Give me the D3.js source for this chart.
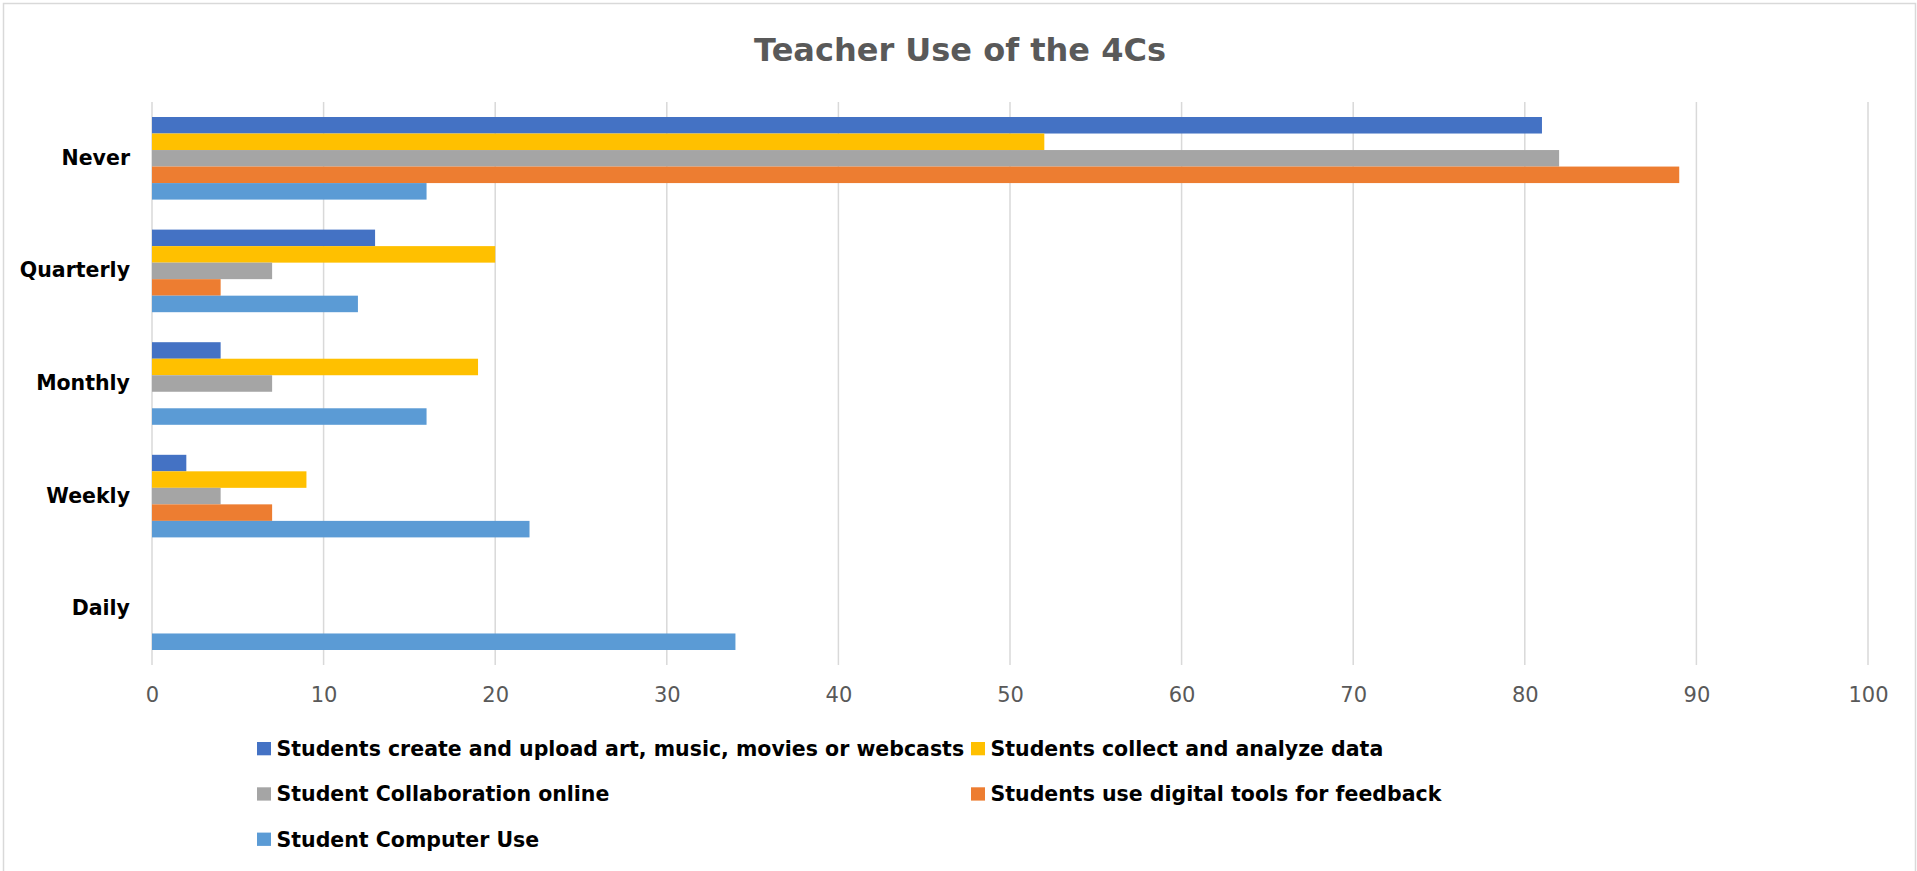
<!DOCTYPE html>
<html>
<head>
<meta charset="utf-8">
<script src="https://cdn.jsdelivr.net/npm/d3@7"></script>
<style>
  html, body { margin: 0; padding: 0; background: #fff; overflow: hidden; }
  text { font-family: "DejaVu Sans", sans-serif; }
</style>
</head>
<body>
<div id="chart"></div>
<script>
// categories, top to bottom
var categories = ["Never", "Quarterly", "Monthly", "Weekly", "Daily"];

var seriesNames = [
  "Students create and upload art, music, movies or webcasts",
  "Students collect and analyze data",
  "Student Collaboration online",
  "Students use digital tools for feedback",
  "Student Computer Use"
];
var seriesColors = ["#4472C4", "#FFC000", "#A5A5A5", "#ED7D31", "#5B9BD5"];

// values per series, same order as categories
var createUpload = [81, 13, 4, 2, 0];
var collectData = [52, 20, 19, 9, 0];
var collabOnline = [82, 7, 7, 4, 0];
var feedbackTools = [89, 4, 0, 7, 0];
var computerUse = [16, 12, 16, 22, 34];

var xTicks = [0, 10, 20, 30, 40, 50, 60, 70, 80, 90, 100];
var title = "Teacher Use of the 4Cs";

(function(){
    var width = 1917, height = 871;
    var left = 152, right = 1868, top = 102, bottom = 665;

    var svg = d3.select("#chart")
    .append("svg")
    .attr("width", width)
    .attr("height", height);

    // chart area border
    svg.append("rect")
    .attr("x", 3.5).attr("y", 3.5)
    .attr("width", 1912).attr("height", 900)
    .attr("fill", "#fff")
    .attr("stroke", "#d9d9d9")
    .attr("stroke-width", 1.5);

    var allSeries = [createUpload, collectData, collabOnline, feedbackTools, computerUse];

    var x = d3.scaleLinear().domain([0, 100]).range([left, right]);
    var y = d3.scaleBand().domain(categories).range([top, bottom])
    .paddingInner(0.2665).paddingOuter(0.13325);
    var ySub = d3.scaleBand().domain(d3.range(seriesNames.length)).range([0, y.bandwidth()]);

    // gridlines
    svg.append("g").selectAll("line")
    .data(xTicks)
    .enter().append("line")
    .attr("x1", function(d){ return x(d); })
    .attr("x2", function(d){ return x(d); })
    .attr("y1", top)
    .attr("y2", bottom)
    .attr("stroke", "#d9d9d9")
    .attr("stroke-width", 1.5);

    // x axis labels
    var xAxis = d3.axisBottom(x).tickValues(xTicks).tickSize(0).tickPadding(22);
    var gx = svg.append("g")
    .attr("transform", "translate(0," + bottom + ")")
    .call(xAxis);
    gx.select(".domain").remove();
    gx.selectAll("text")
    .attr("fill", "#595959")
    .style("font-size", "21px")
    .style("font-family", "'DejaVu Sans', sans-serif");

    // category labels
    var gy = svg.append("g")
    .attr("transform", "translate(" + (left - 22) + ",0)")
    .call(d3.axisLeft(y).tickSize(0).tickPadding(0));
    gy.select(".domain").remove();
    gy.selectAll("text")
    .attr("fill", "#000")
    .style("font-size", "20.5px")
    .style("font-weight", "bold")
    .style("font-family", "'DejaVu Sans', sans-serif");

    // bars
    var groups = svg.append("g").selectAll("g")
    .data(categories)
    .enter().append("g")
    .attr("transform", function(d){ return "translate(0," + y(d) + ")"; });

    groups.selectAll("rect")
    .data(function(c, ci){
        return allSeries.map(function(s, si){ return {si: si, v: s[ci]}; });
    })
    .enter().append("rect")
    .attr("x", x(0))
    .attr("y", function(d){ return ySub(d.si); })
    .attr("height", ySub.bandwidth())
    .attr("width", function(d){ return x(d.v) - x(0); })
    .attr("fill", function(d){ return seriesColors[d.si]; });

    // title
    svg.append("text")
    .attr("x", 960)
    .attr("y", 61)
    .attr("text-anchor", "middle")
    .attr("fill", "#595959")
    .style("font-size", "32px")
    .style("font-weight", "bold")
    .text(title);

    // legend: two columns, three rows
    var legend = svg.append("g").selectAll("g")
    .data(seriesNames)
    .enter().append("g")
    .attr("transform", function(d, i){
        var col = i % 2, row = Math.floor(i / 2);
        return "translate(" + (257 + col * 714) + "," + (742 + row * 45.3) + ")";
    });
    legend.append("rect")
    .attr("width", 14)
    .attr("height", 13.3)
    .attr("fill", function(d, i){ return seriesColors[i]; });
    legend.append("text")
    .attr("x", 19.5)
    .attr("y", 6.7)
    .attr("dy", "0.36em")
    .attr("fill", "#000")
    .style("font-size", "20.5px")
    .style("font-weight", "bold")
    .text(function(d){ return d; });
})();
</script>
</body>
</html>
